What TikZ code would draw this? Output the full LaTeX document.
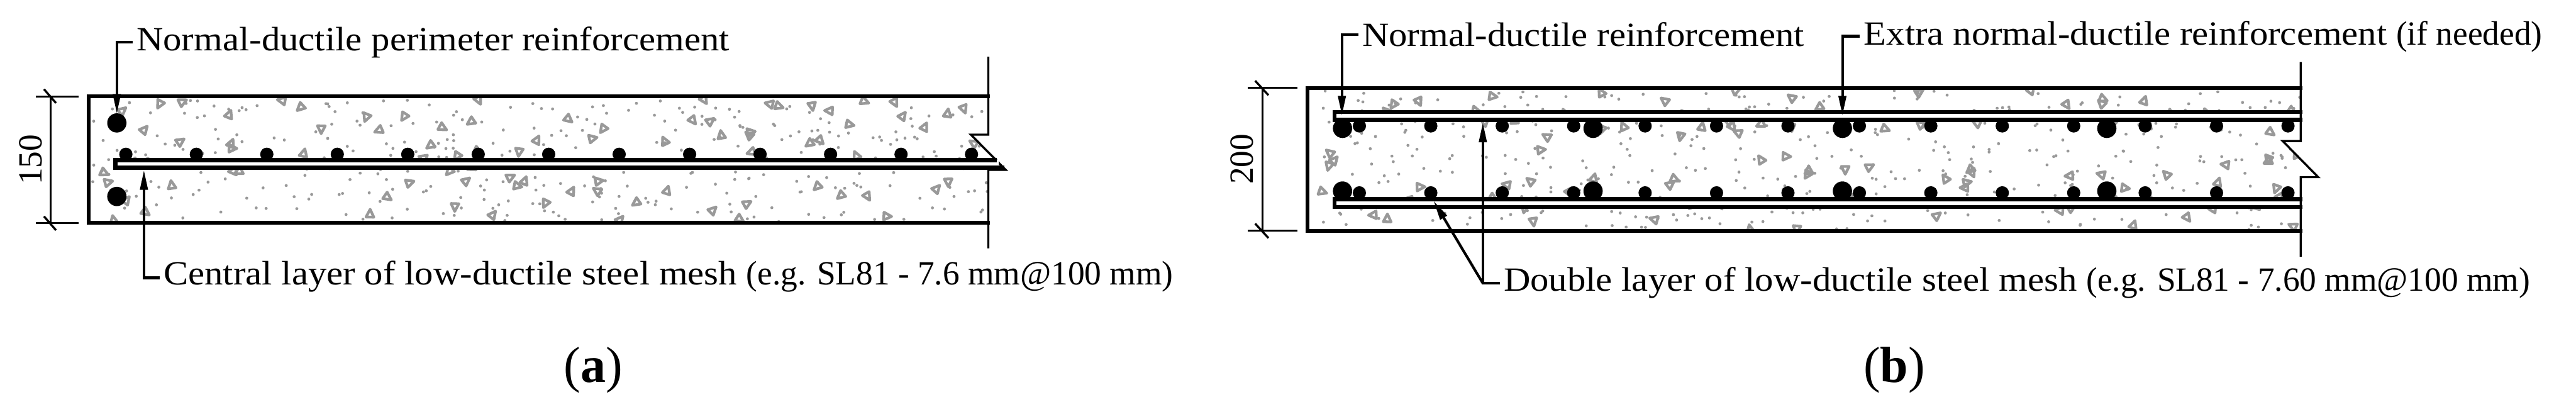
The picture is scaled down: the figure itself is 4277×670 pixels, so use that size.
\documentclass[tikz,border=0pt]{standalone}
\usepackage{fontspec}
\setmainfont[FakeStretch=1.09]{Liberation Serif}
\newfontfamily\narrowserif[FakeStretch=0.99]{Liberation Serif}
\usetikzlibrary{arrows.meta}
\definecolor{aggrgray}{gray}{0.6}
\tikzset{
    outline/.style={line width=0.06cm, miter limit=10},
    thinline/.style={line width=0.035cm},
    mesh/.style={line width=0.068cm},
    leader/.style={line width=0.043cm, -{Triangle[length=0.33cm,width=0.125cm]}},
    lbl/.style={anchor=west, inner ysep=0pt, inner xsep=0.06cm, text depth=0pt, font=\fontsize{16}{18}\selectfont},
    dimtext/.style={rotate=90, inner sep=0pt, font=\narrowserif\fontsize{16}{18}\selectfont},
    caption/.style={inner sep=0pt, font=\narrowserif\fontsize{24}{26}\selectfont}
}
% random aggregate: number of dots, number of stones, x range, y range
\newcommand{\concrete}[6]{
    \foreach \i in {1,...,#1} {
        \pgfmathsetmacro{\px}{#3+rnd*(#4-#3)}
        \pgfmathsetmacro{\py}{#5+rnd*(#6-#5)}
        \fill[aggrgray] (\px,\py) circle (2.5);
    }
    \foreach \i in {1,...,#2} {
        \pgfmathsetmacro{\px}{#3+rnd*(#4-#3)}
        \pgfmathsetmacro{\py}{#5+rnd*(#6-#5)}
        \pgfmathsetmacro{\ang}{rnd*360}
        \draw[aggrgray, line width=0.045cm, line join=round, shift={(\px,\py)}, rotate=\ang] (0,-8) -- (6.5,5) -- (-6.5,5) -- cycle;
    }
}
\begin{document}
\begin{tikzpicture}[x=0.01cm, y=-0.01cm]
    \useasboundingbox (0,0) rectangle (4277,670);
    \pgfmathsetseed{81}

    % Panel (a): texture first, clipped to the slab
    \begin{scope}
        \clip (147,160) -- (1641,160) -- (1641,223.5) -- (1612,223.5) -- (1670,282) -- (1641,282) -- (1641,370) -- (147,370) -- cycle;
        \concrete{340}{92}{150}{1660}{163}{368}
    \end{scope}
    \draw[outline] (1644,160) -- (147,160) -- (147,370) -- (1644,370);
    \draw[thinline] (1641,94) -- (1641,223.5) -- (1612,223.5) -- (1670,282) -- (1641,282) -- (1641,412);

    % Bars and central mesh
    \foreach \i in {0,1,...,12} {
        \fill (209+117*\i,256) circle (11);
    }
    \fill (194,204) circle (16);
    \fill (194,326) circle (16);
    \fill[white] (191,265) rectangle (1658,279);
    \draw[mesh] (1655,265.5) -- (191.5,265.5) -- (191.5,278.5) -- (1668,278.5);

    % Height of (a)
    \draw[thinline] (60,160) -- (131,160) (60,370) -- (131,370) (84,160) -- (84,370);
    \draw[thinline] (73,148) -- (93,171) (73,359) -- (93,382);
    \node[dimtext] (heighta) at (51,265) {150};

    % Labels of (a)
    \coordinate (tipperim) at (194,189);
    \coordinate (tipcentral) at (239,282);
    \node[lbl, text height=0.28cm] (lblperim) at (220,70) {Normal-ductile perimeter reinforcement};
    \node[lbl, text height=0.24cm] (lblcentral) at (265,461) {Central layer of low-ductile steel mesh {\narrowserif (e.g. SL81 - 7.6 mm@100 mm)}};
    \draw[leader] (lblperim.west) -| (tipperim);
    \draw[leader] (lblcentral.west) -| (tipcentral);
    \node[caption, anchor=base] (capa) at (985,634) {(\textbf{a})};

    % Panel (b)
    \begin{scope}
        \clip (2171,146) -- (3820,146) -- (3820,234) -- (3790,234) -- (3849,294) -- (3820,294) -- (3820,383) -- (2171,383) -- cycle;
        \concrete{400}{100}{2174}{3840}{149}{381}
    \end{scope}
    \draw[outline] (3823,146) -- (2171,146) -- (2171,383) -- (3823,383);

    % Bars and double mesh
    \foreach \i in {0,1,...,13} {
        \fill (2257+118.6*\i,209) circle (11);
        \fill (2257+118.6*\i,320) circle (11);
    }
    \foreach \x in {2229,2645,3059,3498} {
        \fill (\x,213) circle (16);
        \fill (\x,317) circle (16);
    }
    \foreach \y in {186,330.5} {
        \fill[white] (2215,\y) rectangle (3823,\y+13);
        \draw[mesh] (3823,\y) -- (2215.5,\y) -- (2215.5,\y+13) -- (3823,\y+13);
    }
    \draw[thinline] (3820,103) -- (3820,234) -- (3790,234) -- (3849,294) -- (3820,294) -- (3820,426);

    % Height of (b)
    \draw[thinline] (2072,146) -- (2154,146) (2072,383) -- (2154,383) (2096,146) -- (2096,383);
    \draw[thinline] (2084,134) -- (2106,158) (2084,371) -- (2106,395);
    \node[dimtext] (heightb) at (2062,264) {200};

    % Labels of (b)
    \coordinate (tipnormal) at (2228,192);
    \coordinate (tipextra) at (3059,192);
    \coordinate (tipupper) at (2462,203);
    \coordinate (tiplower) at (2380,333);
    \node[lbl, text height=0.4cm] (lblnormal) at (2255,57) {Normal-ductile reinforcement};
    \node[lbl, text height=0.3cm] (lblextra) at (3088,60) {Extra normal-ductile reinforcement {\narrowserif (if needed)}};
    \node[lbl, text height=0.26cm] (lbldouble) at (2490,470) {Double layer of low-ductile steel mesh {\narrowserif (e.g. SL81 - 7.60 mm@100 mm)}};
    \draw[leader] (lblnormal.west) -| (tipnormal);
    \draw[leader] (lblextra.west) -| (tipextra);
    \draw[leader] (lbldouble.west) -| (tipupper);
    \draw[leader] (2462,470) -- (tiplower);
    \node[caption, anchor=base] (capb) at (3145,634) {(\textbf{b})};
\end{tikzpicture}
\end{document}
